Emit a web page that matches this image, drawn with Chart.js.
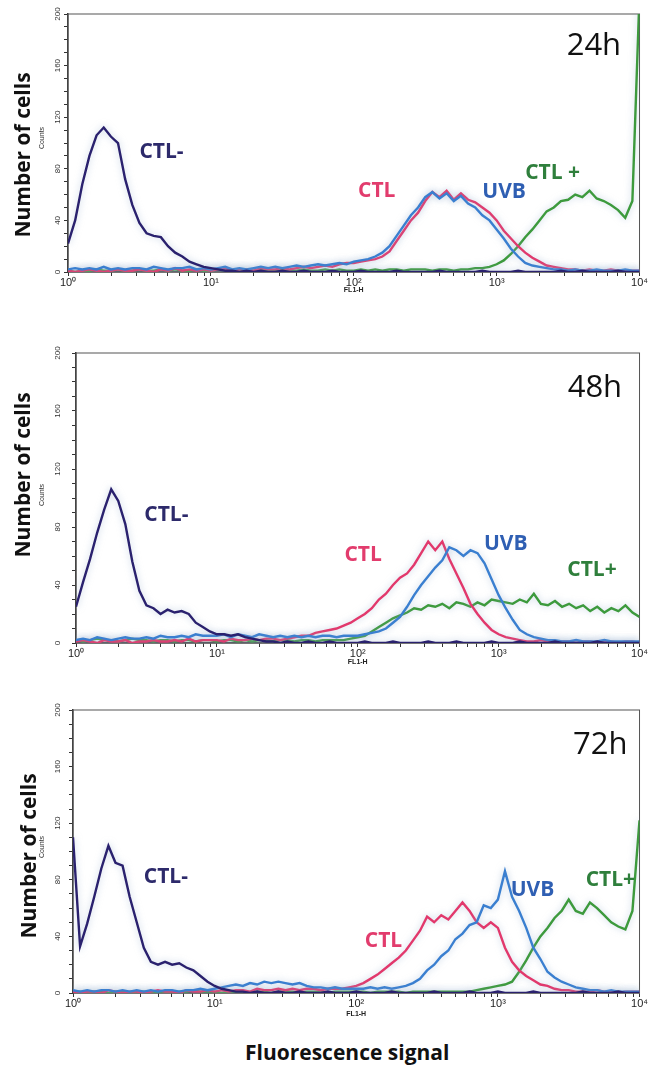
<!DOCTYPE html>
<html>
<head>
<meta charset="utf-8">
<script src="https://cdn.jsdelivr.net/npm/chart.js@4.4.0/dist/chart.umd.min.js"></script>
<style>
  body { margin: 0; width: 648px; height: 1070px; background: #fff; position: relative; overflow: hidden; }
  .panel { position: absolute; left: 0; width: 648px; }
  #xTitle { position: absolute; left: 245px; top: 1038px; font: bold 21px "Open Sans", sans-serif; color: #111; white-space: nowrap; }
</style>
</head>
<body>
<div class="panel" style="top:0;height:300px"><canvas id="chart24" width="648" height="300"></canvas></div>
<div class="panel" style="top:330px;height:342px"><canvas id="chart48" width="648" height="342"></canvas></div>
<div class="panel" style="top:690px;height:334px"><canvas id="chart72" width="648" height="334"></canvas></div>
<div id="xTitle">Fluorescence signal</div>
<script>
// log10 of FL1-H, one entry per histogram point
const exponents = [
  0, 0.05, 0.1, 0.15, 0.2, 0.25, 0.3, 0.35, 0.4, 0.45,
  0.5, 0.55, 0.6, 0.65, 0.7, 0.75, 0.8, 0.85, 0.9, 0.95,
  1, 1.05, 1.1, 1.15, 1.2, 1.25, 1.3, 1.35, 1.4, 1.45,
  1.5, 1.55, 1.6, 1.65, 1.7, 1.75, 1.8, 1.85, 1.9, 1.95,
  2, 2.05, 2.1, 2.15, 2.2, 2.25, 2.3, 2.35, 2.4, 2.45,
  2.5, 2.55, 2.6, 2.65, 2.7, 2.75, 2.8, 2.85, 2.9, 2.95,
  3, 3.05, 3.1, 3.15, 3.2, 3.25, 3.3, 3.35, 3.4, 3.45,
  3.5, 3.55, 3.6, 3.65, 3.7, 3.75, 3.8, 3.85, 3.9, 3.95,
  4
];

// 24h
const ctlNeg24 = [
  22, 40, 68, 90, 106, 112, 105, 100, 72, 52,
  38, 30, 28, 27, 20, 15, 12, 8, 6, 4,
  3, 2, 1, 1, 0, 1, 0, 1, 0, 0,
  1, 0, 0, 1, 0, 0, 0, 1, 0, 0,
  0, 1, 0, 0, 0, 0, 1, 0, 0, 0,
  0, 0, 1, 0, 0, 0, 0, 0, 1, 0,
  0, 0, 0, 1, 0, 0, 0, 0, 0, 1,
  0, 0, 1, 0, 0, 0, 0, 1, 0, 0,
  0
];
const ctl24 = [
  1, 0, 1, 2, 1, 0, 1, 2, 1, 1,
  2, 1, 0, 2, 1, 3, 1, 2, 1, 2,
  1, 2, 3, 1, 2, 2, 1, 3, 2, 2,
  3, 2, 3, 4, 3, 4, 5, 4, 6, 7,
  7, 8, 9, 10, 12, 16, 24, 32, 40, 46,
  55, 62, 58, 63, 56, 61, 56, 54, 50, 46,
  40, 32, 26, 20, 15, 11, 8, 5, 4, 3,
  2, 2, 1, 2, 1, 1, 2, 1, 1, 1,
  1
];
const uvb24 = [
  2, 3, 2, 3, 2, 4, 2, 3, 2, 3,
  3, 2, 4, 3, 2, 3, 3, 4, 2, 3,
  2, 3, 4, 2, 3, 2, 3, 4, 3, 4,
  3, 4, 5, 4, 5, 6, 5, 6, 7, 6,
  8, 9, 10, 12, 15, 20, 28, 36, 44, 50,
  58, 62, 57, 61, 55, 59, 53, 50, 44, 40,
  33, 26, 18, 12, 7, 5, 4, 3, 2, 2,
  1, 2, 1, 1, 2, 1, 1, 1, 2, 1,
  1
];
const ctlPos24 = [
  1, 0, 1, 1, 2, 1, 1, 2, 1, 1,
  2, 1, 1, 2, 1, 2, 1, 1, 2, 1,
  1, 2, 1, 1, 2, 1, 1, 2, 1, 1,
  2, 1, 1, 2, 1, 1, 2, 1, 2, 1,
  1, 2, 1, 2, 1, 2, 2, 1, 2, 2,
  2, 1, 2, 2, 1, 2, 2, 3, 3, 4,
  6, 9, 14, 20, 27, 33, 40, 47, 50, 55,
  56, 60, 58, 63, 57, 55, 52, 48, 42, 55,
  215
];

// 48h
const ctlNeg48 = [
  25, 42, 58, 76, 92, 106, 98, 82, 56, 36,
  26, 24, 20, 23, 21, 22, 20, 14, 11, 8,
  6, 6, 5, 6, 4, 3, 2, 1, 1, 0,
  1, 0, 0, 1, 0, 0, 1, 0, 0, 0,
  0, 1, 0, 0, 0, 1, 0, 0, 0, 0,
  1, 0, 0, 0, 1, 0, 0, 0, 0, 1,
  0, 0, 0, 1, 0, 0, 0, 0, 1, 0,
  0, 0, 0, 0, 1, 0, 0, 0, 0, 0,
  0
];
const ctl48 = [
  1, 2, 1, 0, 2, 1, 1, 2, 0, 1,
  1, 2, 1, 1, 2, 1, 3, 1, 2, 2,
  2, 1, 3, 2, 2, 3, 2, 3, 3, 2,
  3, 4, 5, 5, 7, 8, 9, 10, 12, 14,
  17, 20, 24, 30, 34, 40, 45, 48, 54, 62,
  70, 64, 70, 58, 48, 38, 27, 20, 14, 9,
  6, 4, 3, 2, 1, 1, 2, 1, 1, 1,
  1, 0, 1, 1, 0, 1, 1, 0, 1, 1,
  0
];
const uvb48 = [
  2, 3, 2, 4, 3, 2, 3, 4, 3, 3,
  4, 3, 5, 4, 4, 5, 4, 6, 5, 5,
  5, 6, 4, 6, 5, 4, 6, 5, 4, 5,
  4, 5, 4, 5, 4, 5, 5, 4, 5, 5,
  5, 6, 7, 8, 10, 14, 18, 25, 33, 40,
  46, 52, 57, 66, 64, 60, 64, 62, 55, 44,
  33, 24, 16, 9, 6, 4, 3, 2, 2, 1,
  1, 2, 1, 1, 1, 2, 1, 1, 1, 1,
  1
];
const ctlPos48 = [
  2, 1, 2, 3, 2, 2, 1, 2, 3, 2,
  2, 1, 2, 2, 1, 2, 2, 1, 2, 2,
  1, 2, 2, 1, 2, 1, 2, 2, 1, 2,
  2, 1, 2, 2, 1, 2, 2, 2, 2, 3,
  4, 5, 8, 11, 14, 17, 19, 21, 24, 23,
  26, 25, 27, 24, 28, 27, 25, 28, 26, 30,
  29, 28, 27, 30, 28, 34, 27, 26, 29, 25,
  27, 24, 26, 22, 25, 21, 24, 22, 26, 21,
  18
];

// 72h
const ctlNeg72 = [
  110, 33, 49, 68, 88, 104, 92, 90, 68, 50,
  32, 22, 20, 22, 20, 21, 18, 16, 12, 8,
  5, 3, 2, 1, 1, 0, 1, 0, 0, 1,
  0, 0, 1, 0, 0, 0, 1, 0, 0, 0,
  1, 0, 0, 0, 0, 1, 0, 0, 0, 0,
  0, 1, 0, 0, 0, 0, 1, 0, 0, 0,
  1, 0, 0, 0, 0, 1, 0, 0, 0, 0,
  0, 0, 1, 0, 0, 0, 0, 1, 0, 0,
  0
];
const ctl72 = [
  1, 0, 1, 1, 0, 2, 1, 0, 1, 1,
  0, 1, 2, 1, 1, 0, 2, 1, 1, 2,
  1, 2, 1, 2, 2, 1, 3, 2, 2, 3,
  2, 3, 2, 3, 3, 2, 3, 3, 3, 4,
  5, 7, 10, 13, 17, 21, 25, 30, 37, 44,
  54, 50, 55, 52, 58, 64, 58, 50, 46, 50,
  46, 32, 22, 16, 12, 9, 6, 5, 3, 2,
  2, 1, 1, 1, 2, 1, 1, 0, 1, 1,
  1
];
const uvb72 = [
  2, 1, 2, 1, 2, 2, 1, 2, 1, 2,
  1, 2, 1, 2, 2, 1, 2, 2, 3, 2,
  3, 4, 5, 6, 5, 7, 6, 8, 7, 8,
  7, 6, 7, 5, 4, 4, 3, 4, 3, 3,
  3, 3, 4, 3, 4, 3, 4, 5, 7, 10,
  16, 20, 26, 30, 38, 42, 48, 50, 62, 60,
  66, 86, 68, 58, 46, 32, 24, 15, 11, 8,
  6, 4, 3, 2, 2, 1, 2, 1, 1, 1,
  1
];
const ctlPos72 = [
  1, 1, 0, 1, 1, 0, 1, 1, 0, 1,
  1, 0, 1, 1, 0, 1, 1, 2, 1, 1,
  1, 0, 1, 1, 1, 0, 1, 1, 0, 1,
  1, 1, 0, 1, 1, 1, 0, 1, 1, 1,
  1, 1, 0, 1, 1, 1, 1, 0, 1, 1,
  1, 1, 1, 1, 1, 1, 1, 2, 3, 4,
  5, 6, 8, 15, 23, 32, 40, 46, 53, 58,
  66, 58, 56, 64, 60, 55, 50, 47, 45, 58,
  122
];

const xTickValues = [
  1, 2, 3, 4, 5, 6, 7, 8, 9,
  10, 20, 30, 40, 50, 60, 70, 80, 90,
  100, 200, 300, 400, 500, 600, 700, 800, 900,
  1000, 2000, 3000, 4000, 5000, 6000, 7000, 8000, 9000,
  10000
];
const decadeValues = [1, 10, 100, 1000, 10000];
const decadeLabels = ['10⁰', '10¹', '10²', '10³', '10⁴'];
const yTickLabels = [0, 40, 80, 120, 160, 200];

const colors = { ctlNeg: '#2a216e', ctl: '#e2386c', uvb: '#3a7fd0', ctlPos: '#3d9a3d' };
const textColors = { ctlNeg: '#2d2a6b', ctl: '#e23c6d', uvb: '#2f5fb3', ctlPos: '#2f7f3c' };

const panelText = {
  id: 'panelText',
  beforeDatasetsDraw(chart) {
    const { ctx, chartArea: a } = chart;
    ctx.save();
    ctx.strokeStyle = '#555';
    ctx.lineWidth = 1;
    ctx.strokeRect(a.left, a.top, a.right - a.left, a.bottom - a.top);
    ctx.restore();
    ctx.save();
    ctx.shadowColor = 'rgba(150,175,205,0.6)';
    ctx.shadowBlur = 7;
  },
  afterDatasetsDraw(chart) {
    chart.ctx.restore();
  },
  afterDraw(chart, args, opts) {
    const { ctx, scales: { x, y } } = chart;
    ctx.save();
    // rotated y tick labels
    ctx.fillStyle = '#333';
    ctx.font = '8px "Liberation Sans", sans-serif';
    ctx.textAlign = 'center';
    ctx.textBaseline = 'middle';
    yTickLabels.forEach(v => {
      ctx.save();
      ctx.translate(58, y.getPixelForValue(v));
      ctx.rotate(-Math.PI / 2);
      ctx.fillText(String(v), 0, 0);
      ctx.restore();
    });
    // Counts
    ctx.save();
    ctx.translate(42, opts.countsY);
    ctx.rotate(-Math.PI / 2);
    ctx.font = '7px "Liberation Sans", sans-serif';
    ctx.fillText('Counts', 0, 0);
    ctx.restore();
    // y title
    ctx.save();
    ctx.translate(opts.titleX, opts.titleY);
    ctx.rotate(-Math.PI / 2);
    ctx.fillStyle = '#111';
    ctx.font = 'bold 21px "Open Sans", sans-serif';
    ctx.fillText('Number of cells', 0, 0);
    ctx.restore();
    // curve labels
    ctx.textAlign = 'left';
    ctx.font = 'bold 21px "Open Sans", sans-serif';
    opts.labels.forEach(l => {
      ctx.fillStyle = l.color;
      ctx.fillText(l.text, x.getPixelForValue(Math.pow(10, l.e)), y.getPixelForValue(l.v));
    });
    // time point
    ctx.fillStyle = '#111';
    ctx.font = '31px "Open Sans", sans-serif';
    ctx.fillText(opts.time.text, x.getPixelForValue(Math.pow(10, opts.time.e)), y.getPixelForValue(opts.time.v));
    ctx.restore();
  }
};

function makeChart(id, series, cfg) {
  return new Chart(document.getElementById(id), {
    type: 'line',
    data: {
      datasets: series.map(s => ({
        label: s.label,
        data: exponents.map((e, i) => ({ x: Math.pow(10, e), y: s.values[i] })),
        borderColor: s.color,
        borderWidth: 2.4,
        pointRadius: 0,
        tension: 0,
        fill: false
      }))
    },
    options: {
      responsive: false,
      animation: false,
      events: [],
      layout: { padding: { top: cfg.top, right: cfg.right, left: 0, bottom: 0 } },
      plugins: {
        legend: { display: false },
        tooltip: { enabled: false },
        panelText: cfg.text
      },
      scales: {
        x: {
          type: 'logarithmic',
          min: 1,
          max: 10000,
          afterFit: s => { s.height = cfg.bottom; },
          afterBuildTicks: s => { s.ticks = xTickValues.map(v => ({ value: v })); },
          ticks: {
            autoSkip: false,
            maxRotation: 0,
            padding: 0,
            color: '#222',
            font: { size: 11, family: '"Liberation Sans", sans-serif' },
            callback: v => {
              const k = decadeValues.indexOf(v);
              return k >= 0 ? decadeLabels[k] : '';
            }
          },
          grid: { drawOnChartArea: false, tickLength: 4, color: '#333' },
          border: { color: '#333', width: 1.5 },
          title: {
            display: true,
            text: 'FL1-H',
            color: '#222',
            font: { size: 7, weight: 'bold', family: '"Liberation Sans", sans-serif' },
            padding: { top: 0, bottom: 6 }
          }
        },
        y: {
          min: 0,
          max: 200,
          afterFit: s => { s.width = cfg.left; },
          ticks: { display: false, stepSize: 10 },
          grid: { drawOnChartArea: false, tickLength: 4, color: '#333' },
          border: { color: '#333', width: 1.5 }
        }
      }
    },
    plugins: [panelText]
  });
}

makeChart('chart24', [
  { label: 'CTL-', values: ctlNeg24, color: colors.ctlNeg },
  { label: 'UVB', values: uvb24, color: colors.uvb },
  { label: 'CTL', values: ctl24, color: colors.ctl },
  { label: 'CTL +', values: ctlPos24, color: colors.ctlPos }
], {
  top: 14, right: 8, left: 68, bottom: 28,
  text: {
    titleX: 24, titleY: 155, countsY: 138,
    time: { text: '24h', e: 3.49, v: 175 },
    labels: [
      { text: 'CTL-', e: 0.50, v: 93, color: textColors.ctlNeg },
      { text: 'CTL', e: 2.03, v: 63, color: textColors.ctl },
      { text: 'UVB', e: 2.90, v: 62, color: textColors.uvb },
      { text: 'CTL +', e: 3.20, v: 77, color: textColors.ctlPos }
    ]
  }
});

makeChart('chart48', [
  { label: 'CTL-', values: ctlNeg48, color: colors.ctlNeg },
  { label: 'UVB', values: uvb48, color: colors.uvb },
  { label: 'CTL', values: ctl48, color: colors.ctl },
  { label: 'CTL+', values: ctlPos48, color: colors.ctlPos }
], {
  top: 23, right: 3, left: 76, bottom: 29,
  text: {
    titleX: 24, titleY: 145, countsY: 165,
    time: { text: '48h', e: 3.49, v: 176 },
    labels: [
      { text: 'CTL-', e: 0.485, v: 88, color: textColors.ctlNeg },
      { text: 'CTL', e: 1.905, v: 61, color: textColors.ctl },
      { text: 'UVB', e: 2.896, v: 68, color: textColors.uvb },
      { text: 'CTL+', e: 3.487, v: 50, color: textColors.ctlPos }
    ]
  }
});

makeChart('chart72', [
  { label: 'CTL-', values: ctlNeg72, color: colors.ctlNeg },
  { label: 'UVB', values: uvb72, color: colors.uvb },
  { label: 'CTL', values: ctl72, color: colors.ctl },
  { label: 'CTL+', values: ctlPos72, color: colors.ctlPos }
], {
  top: 20, right: 3, left: 73, bottom: 31,
  text: {
    titleX: 30, titleY: 166, countsY: 157,
    time: { text: '72h', e: 3.53, v: 175 },
    labels: [
      { text: 'CTL-', e: 0.50, v: 82, color: textColors.ctlNeg },
      { text: 'CTL', e: 2.06, v: 37, color: textColors.ctl },
      { text: 'UVB', e: 3.09, v: 73, color: textColors.uvb },
      { text: 'CTL+', e: 3.62, v: 80, color: textColors.ctlPos }
    ]
  }
});
</script>
</body>
</html>
